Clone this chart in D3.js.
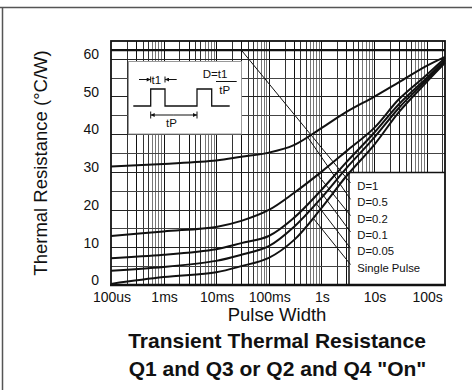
<!DOCTYPE html>
<html><head><meta charset="utf-8">
<script src="https://cdn.jsdelivr.net/npm/d3@7"></script>
<style>
body{margin:0;background:#fff}
svg{display:block}
text{font-family:"Liberation Sans",Arial,Helvetica,sans-serif;fill:#111}
</style>
</head><body>
<svg id="chart" width="472" height="390"></svg>
<script>
// Pulse widths (seconds) at which each curve is sampled
const times = [1e-4, 1e-3, 1e-2, 3e-2, 1e-1, 3e-1, 1, 3, 10, 30, 100, 224];

// Thermal resistance (°C/W) per duty cycle
const rD1    = [62.3, 62.3, 62.3, 62.3, 62.3, 62.3, 62.3, 62.3, 62.3, 62.3, 62.3, 62.3];
const rD05   = [31.4, 32.1, 33.0, 34.0, 35.1, 37.1, 41.6, 45.9, 49.9, 53.8, 58.1, 60.5];
const rD02   = [13.0, 14.2, 15.4, 17.0, 19.9, 24.4, 30.0, 35.5, 41.6, 49.3, 55.7, 60.2];
const rD01   = [7.1, 8.0, 9.5, 11.1, 13.0, 17.8, 25.2, 32.6, 40.3, 48.0, 54.9, 59.7];
const rD005  = [3.8, 4.8, 6.4, 8.0, 10.3, 15.4, 23.1, 31.0, 39.0, 47.0, 54.4, 59.3];
const rSingle= [0.3, 2.1, 3.4, 5.0, 7.2, 11.9, 20.4, 28.9, 37.1, 45.9, 53.8, 58.9];

const seriesNames = ["D=1", "D=0.5", "D=0.2", "D=0.1", "D=0.05", "Single Pulse"];
// pulse width where each callout line leaves its curve
const calloutTimes = [0.03, 0.55, 0.85, 0.95, 0.8, 0.7];

const xTickValues = [1e-4, 1e-3, 1e-2, 1e-1, 1, 10, 100];
const xTickLabels = ["100us", "1ms", "10ms", "100ms", "1s", "10s", "100s"];
const yTickValues = [0, 10, 20, 30, 40, 50, 60];

const seriesValues = [rD1, rD05, rD02, rD01, rD005, rSingle];

const svg = d3.select("#chart");
const L = 111, R = 445, T = 41, B = 285;

const x = d3.scaleLog().domain([1e-4, 224]).range([L, R]);
const y = d3.scaleLinear().domain([0, 64.7]).range([B, T]);

// outer frame
svg.append("line").attr("x1", 0).attr("x2", 472).attr("y1", 7.5).attr("y2", 7.5)
  .attr("stroke", "#555").attr("stroke-width", 1.5);
svg.append("line").attr("x1", 2.5).attr("x2", 2.5).attr("y1", 7).attr("y2", 390)
  .attr("stroke", "#555").attr("stroke-width", 1.5);

const grid = svg.append("g").attr("shape-rendering", "crispEdges");

// logarithmic vertical grid
const vLines = [];
for (let e = -4; e <= 2; e++) {
  for (let m = 1; m <= 9; m++) {
    const v = m * Math.pow(10, e);
    if (v > 1.0001e-4 && v < 224) vLines.push({v, m});
  }
}
grid.selectAll("line.v").data(vLines).join("line")
  .attr("x1", d => Math.round(x(d.v)) + 0.5).attr("x2", d => Math.round(x(d.v)) + 0.5)
  .attr("y1", T).attr("y2", B)
  .attr("stroke", d => d.m === 1 || d.m === 3 ? "#111" : (d.m <= 5 ? "#333" : "#777"))
  .attr("stroke-width", 1);

// horizontal grid every 5 °C/W
const hLines = d3.range(5, 61, 5);
grid.selectAll("line.h").data(hLines).join("line")
  .attr("x1", L).attr("x2", R)
  .attr("y1", d => Math.round(y(d)) + 0.5).attr("y2", d => Math.round(y(d)) + 0.5)
  .attr("stroke", d => d % 10 === 0 ? "#222" : "#444").attr("stroke-width", 1);

// inset box with the pulse-train definition
const inset = svg.append("g");
inset.append("rect").attr("x", 128.5).attr("y", 61.5).attr("width", 113).attr("height", 72.5)
  .attr("fill", "#fff").attr("stroke", "#999").attr("stroke-width", 1);

// legend panel
const legend = svg.append("g");
legend.append("rect").attr("x", 349).attr("y", Math.round(y(30)) + 0.5)
  .attr("width", R - 349).attr("height", B - Math.round(y(30)) - 0.5)
  .attr("fill", "#fff").attr("stroke", "none");
legend.append("path")
  .attr("d", `M349,${B}V${Math.round(y(30)) + 0.5}H${R}`)
  .attr("fill", "none").attr("stroke", "#111").attr("stroke-width", 1.5);

// arrow markers
const defs = svg.append("defs");
defs.append("marker").attr("id", "arr").attr("viewBox", "0 0 10 10")
  .attr("refX", 10).attr("refY", 5).attr("markerWidth", 5).attr("markerHeight", 4)
  .attr("markerUnits", "userSpaceOnUse").attr("orient", "auto-start-reverse")
  .append("path").attr("d", "M0,0L10,5L0,10Z").attr("fill", "#111");

const ink = "#111";
// t1 dimension
inset.append("line").attr("x1", 139).attr("x2", 150.7).attr("y1", 79.5).attr("y2", 79.5)
  .attr("stroke", ink).attr("marker-end", "url(#arr)");
inset.append("line").attr("x1", 176.7).attr("x2", 165).attr("y1", 79.5).attr("y2", 79.5)
  .attr("stroke", ink).attr("marker-end", "url(#arr)");
[150.7, 165].forEach(px => inset.append("line").attr("x1", px).attr("x2", px)
  .attr("y1", 76.5).attr("y2", 82.5).attr("stroke", ink));
inset.append("text").attr("x", 151.5).attr("y", 83.5).attr("font-size", 11.5).text("t1");

// pulse train
inset.append("path")
  .attr("d", "M133.3,106H150.7V89H165V106H197V89H211.7V106H229.7")
  .attr("fill", "none").attr("stroke", ink).attr("stroke-width", 1.3);

// tP dimension
inset.append("line").attr("x1", 173.8).attr("x2", 150.7).attr("y1", 115).attr("y2", 115)
  .attr("stroke", ink).attr("marker-end", "url(#arr)");
inset.append("line").attr("x1", 173.8).attr("x2", 197).attr("y1", 115).attr("y2", 115)
  .attr("stroke", ink).attr("marker-end", "url(#arr)");
[150.7, 197].forEach(px => inset.append("line").attr("x1", px).attr("x2", px)
  .attr("y1", 111.5).attr("y2", 118.5).attr("stroke", ink));
inset.append("text").attr("x", 171.5).attr("y", 127.3).attr("font-size", 11.5)
  .attr("text-anchor", "middle").text("tP");

// duty cycle definition
inset.append("text").attr("x", 202.7).attr("y", 77.5).attr("font-size", 11.5).text("D=t1");
inset.append("line").attr("x1", 216).attr("x2", 236.7).attr("y1", 81.5).attr("y2", 81.5)
  .attr("stroke", ink).attr("stroke-width", 1);
inset.append("text").attr("x", 219.3).attr("y", 93.5).attr("font-size", 11.5).text("tP");

// curves
const line = d3.line().x(d => x(d[0])).y(d => y(d[1])).curve(d3.curveCatmullRom.alpha(0.5));
const paths = seriesValues.map((vals, i) => svg.append("path")
  .datum(times.map((t, k) => [t, vals[k]]))
  .attr("d", line)
  .attr("fill", "none").attr("stroke", "#111")
  .attr("stroke-width", i === 0 ? 2.2 : 2));

// locate the drawn curve's y at a given pixel x
function yOnPath(node, px) {
  const len = node.getTotalLength();
  let lo = 0, hi = len;
  for (let k = 0; k < 40; k++) {
    const mid = (lo + hi) / 2;
    if (node.getPointAtLength(mid).x < px) lo = mid; else hi = mid;
  }
  return node.getPointAtLength((lo + hi) / 2).y;
}

// legend labels with callout lines
const labelY0 = 190, labelStep = 16.3;
seriesNames.forEach((name, i) => {
  const by = labelY0 + i * labelStep;
  const sx = x(calloutTimes[i]);
  const sy = yOnPath(paths[i].node(), sx);
  svg.append("line").attr("x1", sx).attr("y1", sy).attr("x2", 350.5).attr("y2", by - 7)
    .attr("stroke", "#111").attr("stroke-width", 1);
  svg.append("text").attr("x", 357.3).attr("y", by).attr("font-size", 11.3).text(name);
});

// plot border
svg.append("rect").attr("x", L).attr("y", T).attr("width", R - L).attr("height", B - T)
  .attr("fill", "none").attr("stroke", "#111").attr("stroke-width", 1.8);
svg.append("line").attr("x1", L - 1).attr("x2", R + 1).attr("y1", B).attr("y2", B)
  .attr("stroke", "#111").attr("stroke-width", 2.5);

// tick labels
svg.selectAll("text.xt").data(xTickValues).join("text")
  .attr("x", d => x(d) + 1).attr("y", 301.5).attr("font-size", 14)
  .attr("text-anchor", "middle").text((d, i) => xTickLabels[i]);
svg.selectAll("text.yt").data(yTickValues).join("text")
  .attr("x", 99).attr("y", d => y(d) + 0.3).attr("font-size", 14)
  .attr("text-anchor", "end").text(d => d);

// axis titles
svg.append("text").attr("transform", "translate(47,163) rotate(-90)")
  .attr("text-anchor", "middle").attr("font-size", 18.5).text("Thermal Resistance (°C/W)");
svg.append("text").attr("x", 277).attr("y", 320.7).attr("text-anchor", "middle")
  .attr("font-size", 18.5).text("Pulse Width");

// chart title
svg.append("text").attr("x", 277).attr("y", 348).attr("text-anchor", "middle")
  .attr("font-size", 21).attr("font-weight", "bold").text("Transient Thermal Resistance");
svg.append("text").attr("x", 277.5).attr("y", 375.5).attr("text-anchor", "middle")
  .attr("font-size", 21).attr("font-weight", "bold").text("Q1 and Q3 or Q2 and Q4 \"On\"");
</script>
</body></html>
